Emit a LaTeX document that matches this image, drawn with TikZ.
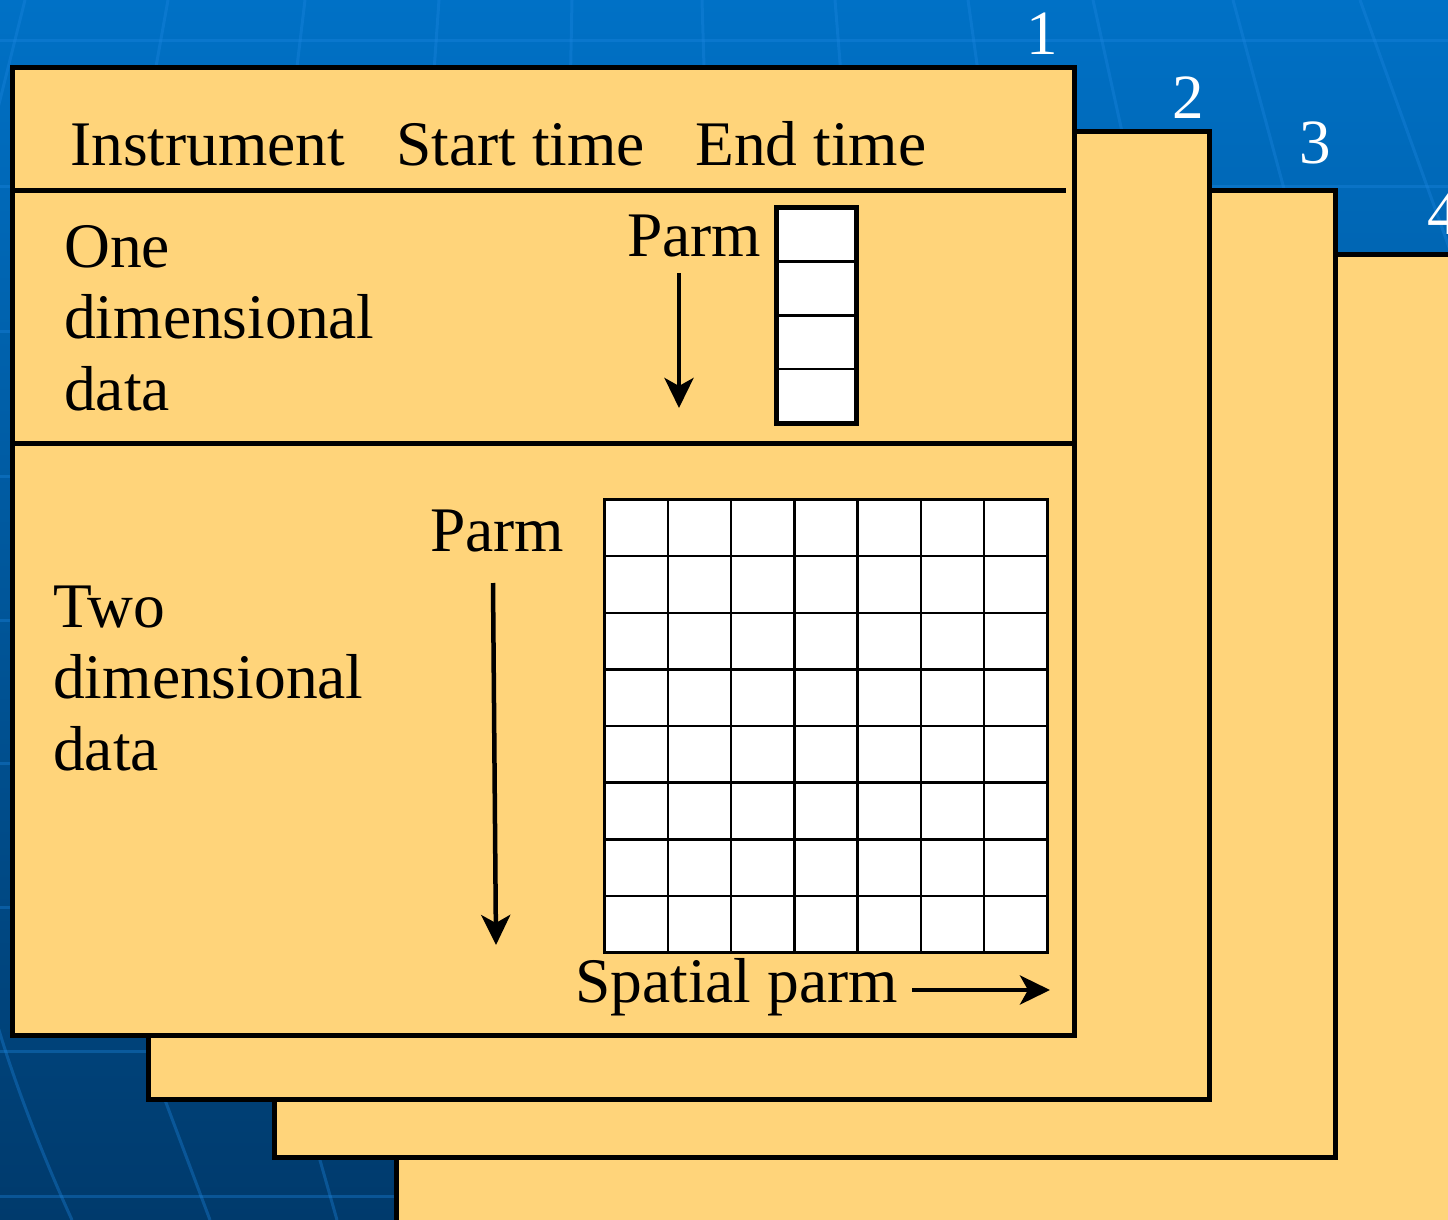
\documentclass[tikz,border=0pt]{standalone}
\usepackage{fontspec}
\setmainfont{Liberation Serif}
\usetikzlibrary{arrows.meta}
\definecolor{card}{RGB}{255,212,122}
\definecolor{bgtop}{RGB}{0,113,198}
\definecolor{bgbot}{RGB}{0,58,108}
\definecolor{gridline}{RGB}{30,135,225}
\begin{document}
\begin{tikzpicture}[x=1pt,y=-1pt,
  cardbox/.style={fill=card, draw=black, line width=5pt, line join=miter},
  sepline/.style={draw=black, line width=5pt},
  lbl/.style={inner sep=0pt, anchor=base west, font=\fontsize{63.5}{71.5}\selectfont, align=left},
  num/.style={inner sep=0pt, anchor=base, text=white, font=\fontsize{63}{72}\selectfont},
  cellline/.style={draw=black, line width=2.5pt},
  parrow/.style={line width=4.5pt, -{Stealth[length=30pt,width=29pt,inset=8pt]}},
  bgline/.style={draw=gridline, opacity=0.35, line width=3pt}
]
\useasboundingbox (0,0) rectangle (1448,1220);
% background
\fill[top color=bgtop, bottom color=bgbot] (0,0) rectangle (1448,1220);
\foreach \y in {41,186,331,476,620,763,907,1051,1196}
  \draw[bgline] (0,\y) -- (1448,\y);
\foreach \x/\s in {25/-0.25,168/-0.18,305/-0.12,439/-0.07,572/-0.02,702/0.03,835/0.08,968/0.14,1093/0.22,1233/0.27,1360/0.36}
  \draw[bgline] (\x,0) -- ({\x+\s*300},300);
\draw[bgline] (-12,990) .. controls (5,1060) and (40,1150) .. (72,1220);
\draw[bgline] (150,1060) -- (210,1220);
\draw[bgline] (310,1125) -- (337,1220);
% cards
\draw[cardbox] (396.5,254.5) rectangle (1475,1250);
\draw[cardbox] (274.5,190.5) rectangle (1335.5,1157.5);
\draw[cardbox] (148.5,131.5) rectangle (1209.5,1099.5);
\draw[cardbox] (12.5,67.5) rectangle (1074,1035.5);
\draw[sepline] (12.5,190.5) -- (1066,190.5);
\draw[sepline] (12.5,443.5) -- (1074,443.5);
% card numbers
\node[num] (n1) at (1042,55) {1};
\node[num] (n2) at (1188,119) {2};
\node[num] (n3) at (1315.5,164) {3};
\node[num, anchor=base west] (n4) at (1427,234) {4};
% header
\node[lbl] (instr) at (70,165) {Instrument};
\node[lbl] (start) at (396,165) {Start time};
\node[lbl] (endt) at (695,165) {End time};
% one dimensional (base anchor = last line)
\node[lbl] (oned) at (64,410) {One\\dimensional\\data};
\node[lbl] (parm1) at (627,256) {Parm};
\fill[white] (776,207.5) rectangle (856,423);
\foreach \y in {261.4,315.25,369.1}
  \draw[cellline] (776,\y) -- (856,\y);
\draw[line width=5pt] (776,207.5) rectangle (856,423);
\coordinate (a1s) at (679,273);
\coordinate (a1e) at (679,408);
\draw[parrow] (a1s) -- (a1e);
% two dimensional
\node[lbl] (twod) at (53,770) {Two\\dimensional\\data};
\node[lbl] (parm2) at (430,551) {Parm};
\coordinate (a2s) at (493,583);
\coordinate (a2e) at (496,945);
\draw[parrow] (a2s) -- (a2e);
\fill[white] (604.5,499.5) rectangle (1047.5,952.5);
\foreach \k in {1,...,6}
  \draw[cellline] ({604.5+\k*63.286},499.5) -- ({604.5+\k*63.286},952.5);
\foreach \k in {1,...,7}
  \draw[cellline] (604.5,{499.5+\k*56.625}) -- (1047.5,{499.5+\k*56.625});
\draw[line width=3pt] (604.5,499.5) rectangle (1047.5,952.5);
\node[lbl] (spat) at (575,1002) {Spatial parm};
\coordinate (a3s) at (912,990);
\coordinate (a3e) at (1050,990);
\draw[parrow] (a3s) -- (a3e);
\end{tikzpicture}
\end{document}
